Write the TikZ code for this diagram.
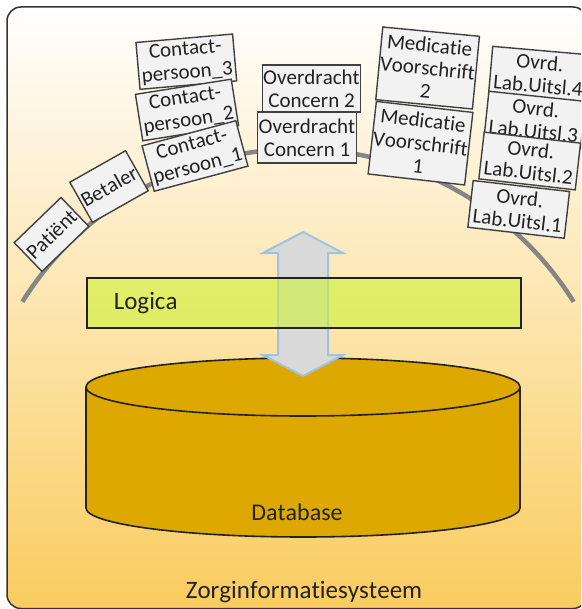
\documentclass[tikz,border=0pt]{standalone}
\usepackage{fontspec}
\setmainfont{Carlito}[Ligatures=NoCommon, Kerning=Off]
\definecolor{frameline}{HTML}{333333}
\definecolor{bgmid}{HTML}{E0AA4E}
\definecolor{bgbottom}{HTML}{FACC5F}
\definecolor{rimgray}{HTML}{858585}
\definecolor{cardfill}{HTML}{F2F2F2}
\definecolor{cardline}{HTML}{404040}
\definecolor{dbgold}{HTML}{DDA800}
\definecolor{arrowfill}{HTML}{D9D9D9}
\definecolor{arrowline}{HTML}{9DC3E6}
\definecolor{barfill}{HTML}{CDF337}
\definecolor{inkdark}{HTML}{222222}

\begin{document}
\begin{tikzpicture}[x=1pt, y=-1pt,
    card/.style={rectangle, draw=cardline, fill=cardfill, line width=1.4pt, inner sep=1pt, minimum width=97pt, minimum height=47pt, align=center, text=inkdark, font=\fontsize{21}{23}\selectfont},
    tallcard/.style={card, minimum height=73pt},
    bar/.style={rectangle, draw=inkdark, fill=barfill, fill opacity=.6, text opacity=1, line width=1.6pt, minimum width=434pt, minimum height=50pt, text width=380pt, inner xsep=27pt, align=left, text=inkdark, font=\fontsize{25}{28}\selectfont},
    label/.style={text=inkdark, inner sep=0pt, font=\fontsize{24}{28}\selectfont},
    rim/.style={draw=rimgray, line width=4.5pt},
    updown/.style={draw=arrowline, fill=arrowfill, line width=2pt, line join=miter}
]
\useasboundingbox (0,0) rectangle (581,609);
\clip (0,0) rectangle (581,609);
\draw[draw=frameline, line width=1.5pt, rounded corners=14pt, top color=white, middle color=bgmid, bottom color=bgbottom] (7,7) rectangle (587,608.5);
\draw[rim] (298,474) ++(-148:325) arc[start angle=-148, end angle=-32, radius=325];

\node[card, minimum width=65pt, minimum height=40pt, rotate=44] (patient) at (51.5,234.5) {Patiënt};
\node[card, minimum width=64pt, minimum height=46pt, rotate=29.5] (betaler) at (109,186.5) {Betaler};
\node[card, rotate=5] (contact3) at (186.3,61.7) {Contact-\\persoon\_3};
\node[card, rotate=9] (contact2) at (187,110) {Contact-\\persoon\_2};
\node[card, rotate=15] (contact1) at (195,156) {Contact-\\persoon\_1};
\node[card] (concern2) at (311.5,88.5) {Overdracht\\Concern 2};
\node[card, minimum width=98pt, minimum height=51pt] (concern1) at (307,137.5) {Overdracht\\Concern 1};
\node[tallcard, rotate=-5.5] (medic2) at (427.6,68) {Medicatie\\Voorschrift\\2};
\node[tallcard, rotate=-6.5] (medic1) at (420.5,143.2) {Medicatie\\Voorschrift\\1};
\node[card, rotate=-5] (lab4) at (539,74) {Ovrd.\\Lab.Uitsl.4};
\node[card, rotate=-6] (lab3) at (534.7,119.7) {Ovrd.\\Lab.Uitsl.3};
\node[card, rotate=-6.5] (lab2) at (529.7,161) {Ovrd.\\Lab.Uitsl.2};
\node[card, rotate=-6.5] (lab1) at (518.7,209.4) {Ovrd.\\Lab.Uitsl.1};

\draw[draw=inkdark, line width=1.6pt, fill=dbgold] (86,387) -- (86,508) arc[start angle=180, end angle=0, x radius=217, y radius=29] -- (520,387) arc[start angle=0, end angle=-180, x radius=217, y radius=29] -- cycle;
\draw[draw=inkdark, line width=1.6pt] (86,387) arc[start angle=180, end angle=0, x radius=217, y radius=29];

\draw[updown] (303,232) -- (343,253) -- (328,253) -- (328,355) -- (343,355) -- (303,376) -- (263,355) -- (278,355) -- (278,253) -- (263,253) -- cycle;

\node[bar, anchor=north west] (logica) at (86,277) {Logica};
\node[label, anchor=base] (database) at (297,520) {Database};
\node[label, font=\fontsize{25}{28}\selectfont, anchor=base] (zis) at (304,598) {Zorginformatiesysteem};
\end{tikzpicture}
\end{document}
